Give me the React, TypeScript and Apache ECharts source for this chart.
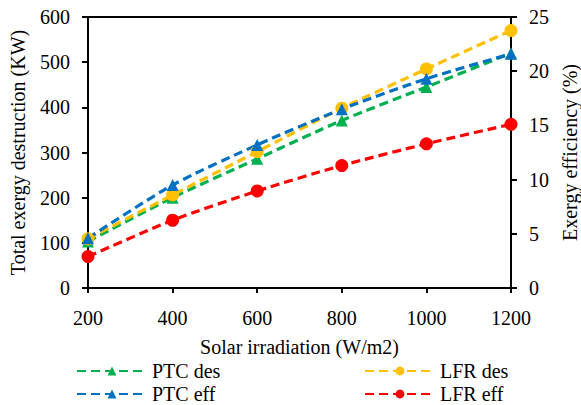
import React, { useEffect, useRef } from "react";
import * as echarts from "echarts";

const categories = ["200", "400", "600", "800", "1000", "1200"];
const ptcDes = [103, 200, 286, 371, 445, 520];
const lfrDes = [109, 206, 302, 398, 485, 570];
const ptcEff = [4.6, 9.5, 13.2, 16.5, 19.3, 21.6];
const lfrEff = [2.9, 6.25, 8.95, 11.3, 13.3, 15.1];

const FONT = "Liberation Serif";

export default function App() {
  const ref = useRef<HTMLDivElement>(null);
  useEffect(() => {
    if (!ref.current) return;
    const chart = echarts.init(ref.current, undefined, { renderer: "svg" });
    const mk = (
      name: string,
      data: number[],
      color: string,
      symbol: string,
      symbolSize: number,
      yAxisIndex: number
    ) => ({
      name,
      type: "line",
      data,
      yAxisIndex,
      smooth: 0.25,
      symbol,
      symbolSize,
      showSymbol: true,
      itemStyle: { color },
      lineStyle: { color, width: 3.2, type: [9, 5] },
    });
    const legendText = { fontFamily: FONT, fontSize: 20, color: "#000" };
    const lg = (name: string, left: number, top: number) => ({
      data: [name],
      orient: "horizontal",
      left,
      top,
      itemWidth: 70,
      itemHeight: 11,
      padding: 0,
      textStyle: legendText,
    });
    chart.setOption({
      animation: false,
      textStyle: { fontFamily: FONT },
      grid: {
        left: 88,
        right: 70,
        top: 17,
        bottom: 117,
        containLabel: false,
        outerBoundsMode: "none",
        show: true,
        borderColor: "#000",
        borderWidth: 2,
      },
      legend: [
        lg("PTC des", 76, 361),
        lg("PTC eff", 76, 384),
        lg("LFR des", 364, 361),
        lg("LFR eff", 364, 384),
      ],
      xAxis: {
        type: "category",
        data: categories,
        boundaryGap: false,
        name: "Solar irradiation (W/m2)",
        nameLocation: "middle",
        nameGap: 49,
        nameTextStyle: { fontFamily: FONT, fontSize: 20, color: "#000" },
        axisLine: { lineStyle: { color: "#000", width: 2 } },
        axisTick: { show: true, length: 5, alignWithLabel: true, lineStyle: { color: "#000", width: 2 } },
        axisLabel: { fontFamily: FONT, fontSize: 20, color: "#000", margin: 20 },
        splitLine: { show: false },
      },
      yAxis: [
        {
          type: "value",
          min: 0,
          max: 600,
          interval: 100,
          name: "Total exergy destruction (KW)",
          nameLocation: "middle",
          nameRotate: 90,
          nameGap: 60,
          nameTextStyle: { fontFamily: FONT, fontSize: 20, color: "#000" },
          axisLine: { show: true, lineStyle: { color: "#000", width: 2 } },
          axisTick: { show: true, length: 6, lineStyle: { color: "#000", width: 2 } },
          axisLabel: { fontFamily: FONT, fontSize: 20, color: "#000", margin: 18 },
          splitLine: { show: false },
        },
        {
          type: "value",
          position: "right",
          min: 0,
          max: 25,
          interval: 5,
          name: "Exergy efficiency (%)",
          nameLocation: "middle",
          nameRotate: 90,
          nameGap: 48,
          nameTextStyle: { fontFamily: FONT, fontSize: 20, color: "#000" },
          axisLine: { show: true, lineStyle: { color: "#000", width: 2 } },
          axisTick: { show: true, length: 6, lineStyle: { color: "#000", width: 2 } },
          axisLabel: { fontFamily: FONT, fontSize: 20, color: "#000", margin: 18 },
          splitLine: { show: false },
        },
      ],
      series: [
        mk("PTC des", ptcDes, "#00B050", "triangle", 12, 0),
        mk("LFR des", lfrDes, "#FFC000", "circle", 13, 0),
        mk("PTC eff", ptcEff, "#0070C0", "triangle", 12, 1),
        mk("LFR eff", lfrEff, "#FF0000", "circle", 13, 1),
      ],
    });
    return () => chart.dispose();
  }, []);
  return <div ref={ref} style={{ width: 581, height: 405, position: "absolute", left: 0, top: 0 }} />;
}
